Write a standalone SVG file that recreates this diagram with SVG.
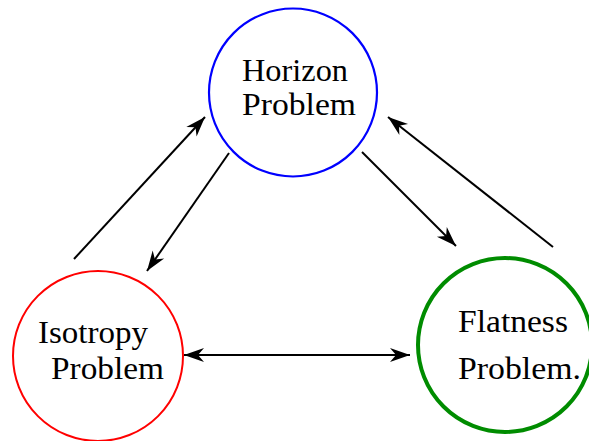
<svg xmlns="http://www.w3.org/2000/svg" width="589" height="441" viewBox="0 0 589 441">
<style>
.lbl{font-family:'Liberation Serif','Times New Roman',serif;font-size:31px;fill:#000}
.edge{stroke:#000;stroke-width:2;fill:none}
</style>
<defs>
<marker id="ah" viewBox="-21 -8 22 16" refX="0" refY="0" markerWidth="22" markerHeight="16" markerUnits="userSpaceOnUse" orient="auto-start-reverse">
<path d="M0,0 L-20,-7 L-14,0 L-20,7 Z" fill="#000"/>
</marker>
</defs>
<rect width="589" height="441" fill="#fff"/>
<g id="horizon">
<circle cx="293" cy="92.5" r="84" fill="none" stroke="#0000ff" stroke-width="2.2"/>
<text class="lbl" x="242" y="81" textLength="106" lengthAdjust="spacingAndGlyphs">Horizon</text>
<text class="lbl" x="242" y="115" textLength="114" lengthAdjust="spacingAndGlyphs">Problem</text>
</g>
<g id="isotropy">
<circle cx="98" cy="356" r="85" fill="none" stroke="#ff0000" stroke-width="2"/>
<text class="lbl" x="38" y="343" textLength="110" lengthAdjust="spacingAndGlyphs">Isotropy</text>
<text class="lbl" x="51" y="379" textLength="113" lengthAdjust="spacingAndGlyphs">Problem</text>
</g>
<g id="flatness">
<circle cx="505" cy="345" r="87" fill="none" stroke="#008c00" stroke-width="4"/>
<text class="lbl" x="458" y="332" textLength="110" lengthAdjust="spacingAndGlyphs">Flatness</text>
<text class="lbl" x="458" y="379" textLength="123" lengthAdjust="spacingAndGlyphs">Problem.</text>
</g>
<g id="connectors">
<line class="edge" x1="74" y1="259" x2="205" y2="117" marker-end="url(#ah)"/>
<line class="edge" x1="229" y1="153" x2="147" y2="271" marker-end="url(#ah)"/>
<line class="edge" x1="362" y1="152" x2="456" y2="246" marker-end="url(#ah)"/>
<line class="edge" x1="553" y1="247" x2="388" y2="117" marker-end="url(#ah)"/>
<line class="edge" x1="184" y1="355" x2="410" y2="355" marker-start="url(#ah)" marker-end="url(#ah)"/>
</g>
</svg>
